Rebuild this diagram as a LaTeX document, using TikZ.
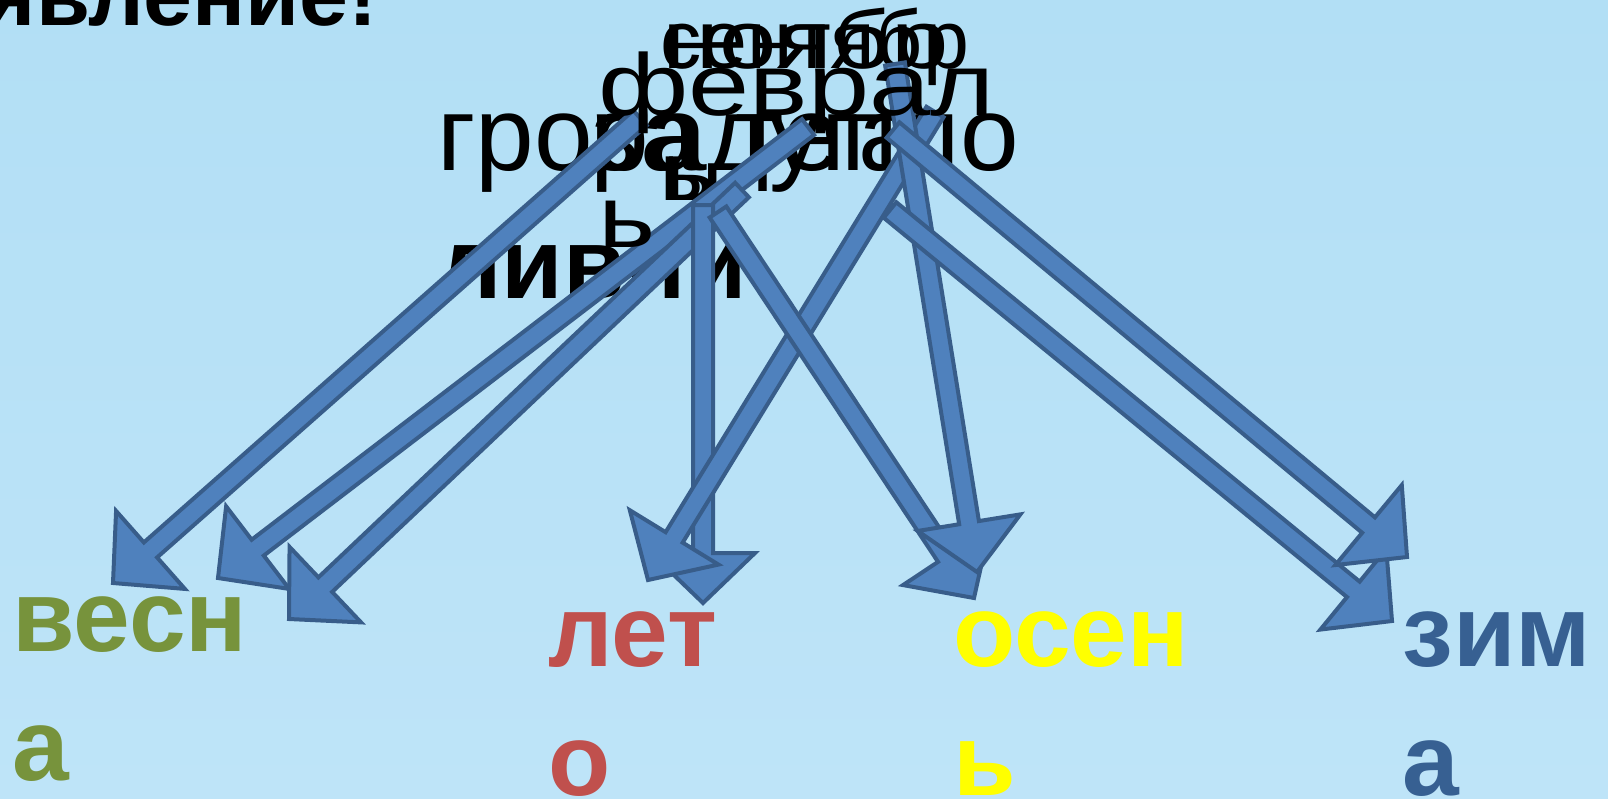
\documentclass[tikz,border=0pt]{standalone}
\usepackage{fontspec}
\setmainfont{Liberation Sans}
\usetikzlibrary{positioning,calc}

\definecolor{arrowfill}{HTML}{4F81BD}
\definecolor{arrowline}{HTML}{385D8A}
\definecolor{springgreen}{HTML}{77933C}
\definecolor{summerred}{HTML}{C0504D}
\definecolor{autumnyellow}{HTML}{FFFF00}
\definecolor{winterblue}{HTML}{376092}
\definecolor{skytop}{HTML}{B2DFF5}
\definecolor{skybottom}{HTML}{BEE4F8}

% block arrow from tail #1 to tip #2
\newcommand{\blockarrow}[2]{%
  \path ($(#2)!1.0cm!(#1)$) coordinate (bm);
  \draw[barrow] ($(#1)!0.2cm!90:(#2)$) -- ($(bm)!0.2cm!90:(#2)$)
    -- ($(bm)!1.04cm!90:(#2)$) -- (#2) -- ($(bm)!1.04cm!-90:(#2)$)
    -- ($(bm)!0.2cm!-90:(#2)$) -- ($(#1)!0.2cm!-90:(#2)$) -- cycle;
}

\begin{document}
\begin{tikzpicture}[x=0.02cm,y=-0.02cm,
    barrow/.style={draw=arrowline, fill=arrowfill, line width=0.08cm, line join=miter},
    word/.style={inner sep=0pt, anchor=base west, align=left},
    wide/.style={word, font=\fontsize{#1}{75}\selectfont\addfontfeature{FakeStretch=1.25}},
    season/.style={inner sep=0pt, anchor=base west, align=left,
      font=\fontsize{58}{73}\selectfont\bfseries}]
  \useasboundingbox (0,0) rectangle (1608,798);
  \clip (0,0) rectangle (1608,798);
  \shade[top color=skytop, bottom color=skybottom] (0,0) rectangle (1608,798);

  % question line, cut at the top
  \node[word, anchor=base east, font=\fontsize{50}{60}\selectfont\bfseries] (title) at (378,25) {явление!};

  % the pile of words (base = last line)
  \node[word, font=\fontsize{47}{75}\selectfont] (sept) at (660,200) {сентябр\\ь};
  \node[wide=47] (nov) at (662,200) {ноябр\\ь};
  \node[word, font=\fontsize{60}{72}\selectfont] (storm) at (437,170) {гроза};
  \node[word, font=\fontsize{60}{72}\selectfont] (rainbow) at (590,170) {радуга};
  \node[word, font=\fontsize{60}{72}\selectfont] (warm) at (735,170) {тепло};
  \node[word, font=\fontsize{57}{68}\selectfont\bfseries] (showers) at (438,298) {ливни};

  % season labels
  \node[season, text=springgreen] (spring) at (12,780) {весн\\а};
  \node[season, text=summerred] (summer) at (548,795) {лет\\о};
  \node[season, text=autumnyellow] (autumn) at (953,795) {осен\\ь};
  \node[season, text=winterblue] (winter) at (1402,795) {зим\\а};

  % arrow ends
  \coordinate (s1) at (640,118);  \coordinate (e1) at (113,583);
  \coordinate (s2) at (808,127);  \coordinate (e2) at (218,578);
  \coordinate (s3) at (742,190);  \coordinate (e3) at (289,619);
  \coordinate (s4) at (703,205);  \coordinate (e4) at (703,603);
  \coordinate (s5) at (935,112);  \coordinate (e5) at (648,580);
  \coordinate (s6) at (718,212);  \coordinate (e6) at (974,598);
  \coordinate (s7) at (895,64);   \coordinate (e7) at (977,572);
  \coordinate (s8) at (890,210);  \coordinate (e8) at (1392,621);
  \coordinate (s9) at (893,130);  \coordinate (e9) at (1407,557);

  \blockarrow{s1}{e1}
  \blockarrow{s2}{e2}
  \blockarrow{s3}{e3}
  \blockarrow{s4}{e4}
  \blockarrow{s5}{e5}
  \blockarrow{s6}{e6}
  \blockarrow{s7}{e7}
  \blockarrow{s8}{e8}
  \blockarrow{s9}{e9}

  \node[wide=50] (feb) at (598,247) {феврал\\ь};
\end{tikzpicture}
\end{document}
